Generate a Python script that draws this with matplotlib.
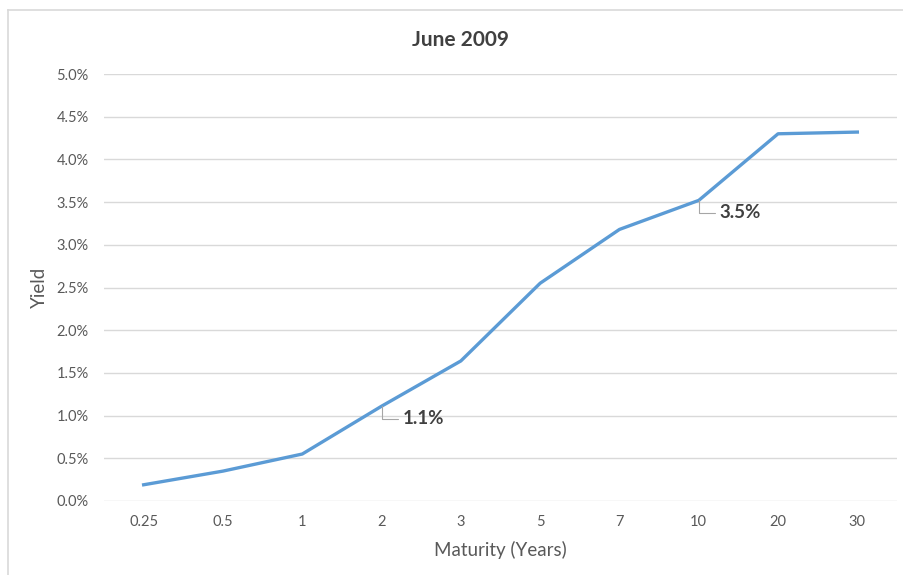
import matplotlib.pyplot as plt
from matplotlib.lines import Line2D
from matplotlib.ticker import FuncFormatter

maturities = ['0.25', '0.5', '1', '2', '3', '5', '7', '10', '20', '30']
yields = [0.19, 0.35, 0.55, 1.11, 1.64, 2.55, 3.18, 3.52, 4.30, 4.32]
labels = {3: '1.1%', 7: '3.5%'}

plt.rcParams['font.family'] = ['Lato', 'DejaVu Sans']
grey = '#595959'

fig = plt.figure(figsize=(9.04, 5.75), dpi=100)
ax = fig.add_axes([104 / 904, 1 - 501 / 575, 793 / 904, 427 / 575])

x = list(range(len(maturities)))
ax.plot(x, yields, color='#5B9BD5', lw=2.4, solid_joinstyle='round', zorder=3)

ax.set_xlim(-0.5, len(maturities) - 0.5)
ax.set_ylim(0, 5)
ax.set_yticks([i * 0.5 for i in range(11)])
ax.yaxis.set_major_formatter(FuncFormatter(lambda v, p: f'{v:.1f}%'))
ax.set_xticks(x)
ax.set_xticklabels(maturities)
ax.grid(axis='y', color='#D9D9D9', lw=1)
ax.set_axisbelow(True)
for s in ax.spines.values():
    s.set_visible(False)
ax.tick_params(length=0, colors=grey, labelsize=10.5)
ax.tick_params(axis='x', pad=10)
ax.tick_params(axis='y', pad=11)

ax.set_xlabel('Maturity (Years)', fontsize=13.5, color=grey, labelpad=9)
ax.set_ylabel('Yield', fontsize=13.5, color=grey, labelpad=6)
fig.text(461 / 904, 1 - 40 / 575, 'June 2009', fontsize=15, fontweight='bold',
         color='#404040', ha='center', va='center')

# data labels with leader lines
for i, txt in labels.items():
    ax.annotate(txt, xy=(i, yields[i]), xytext=(15, -9), textcoords='offset points',
                fontsize=13.5, fontweight='bold', color='#404040', va='center', ha='left',
                arrowprops=dict(arrowstyle='-', color='#A6A6A6', lw=0.8,
                                connectionstyle='angle,angleA=0,angleB=90,rad=0',
                                shrinkA=1, shrinkB=0))

# chart frame (left and top edges visible)
fig.add_artist(Line2D([8 / 904, 8 / 904], [0, 1 - 10 / 575], color='#D9D9D9', lw=1.2, transform=fig.transFigure))
fig.add_artist(Line2D([8 / 904, 1], [1 - 10 / 575, 1 - 10 / 575], color='#D9D9D9', lw=1.2, transform=fig.transFigure))

fig.savefig('out.png', dpi=100)
